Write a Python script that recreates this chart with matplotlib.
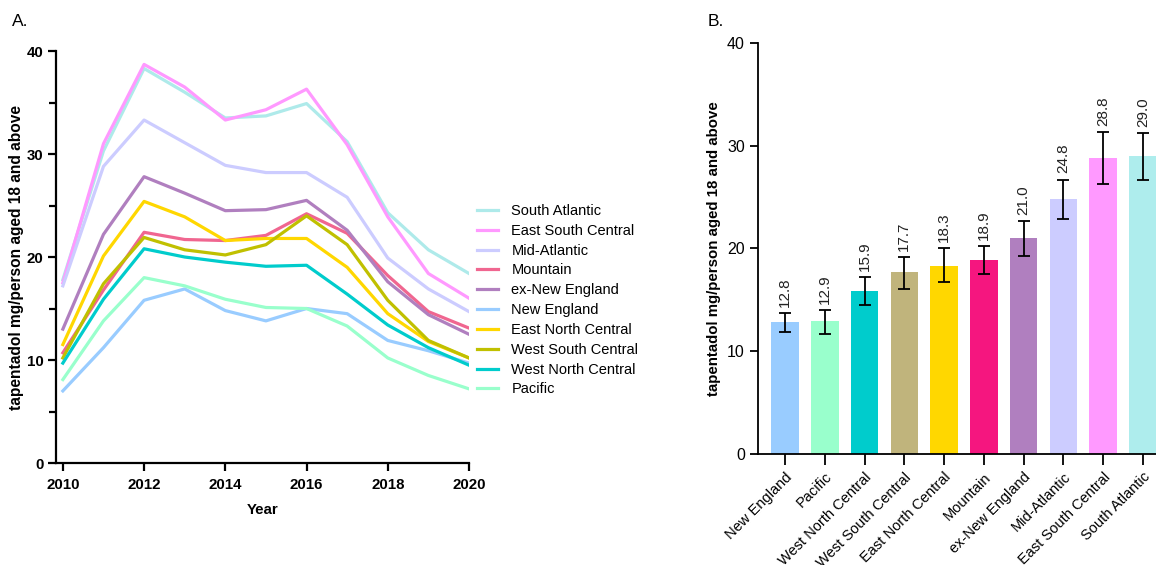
import numpy as np
import matplotlib
matplotlib.use('Agg')
import matplotlib.pyplot as plt
from matplotlib.ticker import MultipleLocator

plt.rcParams['font.family'] = ['Liberation Sans', 'DejaVu Sans']

# Panel A: yearly series per region
years = np.arange(2010, 2021)
regions = ['South Atlantic', 'East South Central', 'Mid-Atlantic', 'Mountain',
           'ex-New England', 'New England', 'East North Central',
           'West South Central', 'West North Central', 'Pacific']
south_atlantic = [17.8, 30.3, 38.3, 36.0, 33.5, 33.7, 34.9, 31.2, 24.3, 20.7, 18.4]
east_south_central = [17.5, 31.0, 38.7, 36.5, 33.3, 34.3, 36.3, 30.9, 23.9, 18.4, 16.0]
mid_atlantic = [17.2, 28.8, 33.3, 31.1, 28.9, 28.2, 28.2, 25.8, 19.9, 16.9, 14.7]
mountain = [10.7, 16.8, 22.4, 21.7, 21.6, 22.1, 24.2, 22.3, 18.2, 14.7, 13.1]
ex_new_england = [13.0, 22.2, 27.8, 26.2, 24.5, 24.6, 25.5, 22.6, 17.6, 14.4, 12.5]
new_england = [7.0, 11.2, 15.8, 16.9, 14.8, 13.8, 15.0, 14.5, 11.9, 10.9, 9.7]
east_north_central = [11.5, 20.1, 25.4, 23.9, 21.6, 21.8, 21.8, 19.0, 14.5, 11.8, 10.2]
west_south_central = [10.2, 17.4, 21.9, 20.7, 20.2, 21.2, 24.0, 21.2, 15.8, 11.9, 10.2]
west_north_central = [9.7, 15.9, 20.8, 20.0, 19.5, 19.1, 19.2, 16.4, 13.4, 11.2, 9.5]
pacific = [8.1, 13.8, 18.0, 17.2, 15.9, 15.1, 15.0, 13.3, 10.2, 8.5, 7.2]
series = [south_atlantic, east_south_central, mid_atlantic, mountain, ex_new_england,
          new_england, east_north_central, west_south_central, west_north_central, pacific]
line_colors = ['#aeeaea', '#ff99ff', '#ccccff', '#f06690', '#b07fbf',
               '#99ccff', '#ffd700', '#c0c000', '#00cccc', '#99ffcc']

# Panel B: mean with error bars
bar_regions = ['New England', 'Pacific', 'West North Central', 'West South Central',
               'East North Central', 'Mountain', 'ex-New England', 'Mid-Atlantic',
               'East South Central', 'South Atlantic']
bar_values = [12.8, 12.9, 15.9, 17.7, 18.3, 18.9, 21.0, 24.8, 28.8, 29.0]
err_low = [11.9, 11.7, 14.5, 16.1, 16.7, 17.5, 19.3, 22.9, 26.3, 26.7]
err_high = [13.7, 14.0, 17.2, 19.2, 20.0, 20.2, 22.7, 26.7, 31.3, 31.2]
bar_colors = ['#99ccff', '#99ffcc', '#00cccc', '#c0b47c', '#ffd700',
              '#f5167f', '#b07fbf', '#ccccff', '#ff99ff', '#aeeded']

ylabel = 'tapentadol mg/person aged 18 and above'

fig = plt.figure(figsize=(11.56, 5.65), dpi=100)

# ---- Panel A ----
ax1 = fig.add_axes([0.0484, 0.1805, 0.3573, 0.7292])
for name, vals, c in zip(regions, series, line_colors):
    ax1.plot(years, vals, color=c, lw=2.3, label=name)
ax1.set_xlim(2009.83, 2020)
ax1.set_ylim(0, 40)
ax1.set_xticks([2010, 2012, 2014, 2016, 2018, 2020])
ax1.yaxis.set_major_locator(MultipleLocator(10))
ax1.yaxis.set_minor_locator(MultipleLocator(5))
for s in ['top', 'right']:
    ax1.spines[s].set_visible(False)
for s in ['left', 'bottom']:
    ax1.spines[s].set_linewidth(1.6)
ax1.tick_params(which='both', width=1.6, direction='out')
ax1.tick_params(which='major', length=6)
ax1.tick_params(which='minor', length=5)
ax1.tick_params(axis='y', which='major', pad=3)
ax1.tick_params(axis='x', which='major', pad=5)
for lab in ax1.get_xticklabels() + ax1.get_yticklabels():
    lab.set_fontweight('bold')
    lab.set_fontsize(10.8)
ax1.set_xlabel('Year', fontweight='bold', fontsize=10.8, labelpad=8)
ax1.set_ylabel(ylabel, fontweight='bold', fontsize=11.2)
ax1.yaxis.set_label_coords(-0.077, 0.5)
ax1.legend(loc='upper left', bbox_to_anchor=(477 / 1156, 1 - 204 / 565),
           bbox_transform=fig.transFigure, frameon=False, fontsize=10.5,
           borderpad=0, borderaxespad=0, handlelength=1.45, handletextpad=0.9,
           labelspacing=0.4)

# ---- Panel B ----
ax2 = fig.add_axes([0.6557, 0.1965, 0.3443, 0.7274])
xpos = np.arange(len(bar_regions))
vals = np.array(bar_values)
yerr = np.array([vals - np.array(err_low), np.array(err_high) - vals])
ax2.bar(xpos, vals, width=0.69, color=bar_colors)
ax2.errorbar(xpos, vals, yerr=yerr, fmt='none', ecolor='black', elinewidth=1.3,
             capsize=4.5, capthick=1.3)
for x, v, hi in zip(xpos, bar_values, err_high):
    ax2.text(x, hi + 0.6, f'{v:.1f}', rotation=90, ha='center', va='bottom',
             fontsize=11, color='#222222')
ax2.set_xlim(-0.68, 9.33)
ax2.set_ylim(0, 40)
ax2.yaxis.set_major_locator(MultipleLocator(10))
ax2.set_xticks(xpos)
ax2.set_xticklabels(bar_regions, rotation=45, ha='right', rotation_mode='anchor',
                    fontsize=10.5)
ax2.tick_params(axis='y', labelsize=11.5, length=6, width=1.3)
ax2.tick_params(axis='x', length=8, width=1.3)
for s in ['top', 'right']:
    ax2.spines[s].set_visible(False)
for s in ['left', 'bottom']:
    ax2.spines[s].set_linewidth(1.3)
ax2.set_ylabel(ylabel, fontweight='bold', fontsize=10.8, labelpad=4)

fig.text(12 / 1156, 1 - 22 / 565, 'A.', fontsize=12.5, va='center')
fig.text(708 / 1156, 1 - 22 / 565, 'B.', fontsize=12.5, va='center')

fig.savefig('out.png', dpi=100)
